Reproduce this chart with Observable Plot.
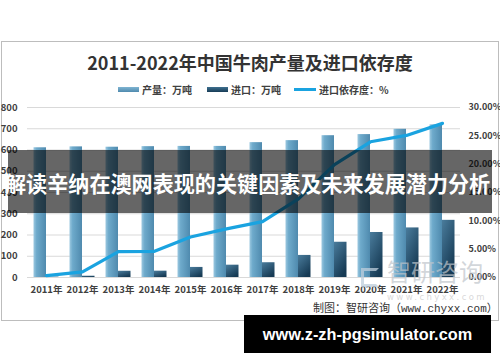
<!DOCTYPE html>
<html><head><meta charset="utf-8">
<script src="https://cdn.jsdelivr.net/npm/d3@7"></script>
<script src="https://cdn.jsdelivr.net/npm/@observablehq/plot@0.6"></script>
<style>
body{margin:0;background:#fff;}
#wrap{position:relative;width:500px;height:362px;overflow:hidden;background:#fff;font-family:"Noto Sans CJK SC","Noto Sans",sans-serif;}
#wrap svg{position:absolute;left:0;top:0;}
.abs{position:absolute;white-space:nowrap;}
</style></head>
<body>
<div id="wrap">
  <div class="abs" style="left:1px;top:41px;width:496px;height:278px;border:1px solid #bdbdbd;"></div>
  <div id="chart"></div>
  <div class="abs" style="left:361px;top:268px;width:12px;height:13px;border:3px solid rgba(190,206,220,0.75);border-right-color:transparent;"></div>
  <div class="abs" id="wm" style="left:387px;top:256px;font-size:24px;color:rgba(190,196,202,0.7);line-height:30px;"></div>
  <div class="abs" id="wmurl" style="left:387px;top:292px;font-size:8.5px;color:rgba(200,200,200,0.7);letter-spacing:2.4px;font-family:'DejaVu Sans';"></div>
  <div class="abs" id="title" style="left:0;width:500px;top:49px;text-align:center;font-size:18px;font-weight:bold;color:#333;line-height:26px;"></div>
  <div id="legend"></div>
  <div class="abs" id="caption" style="left:313px;top:301px;font-size:11px;color:#333;line-height:16px;font-family:'Liberation Mono','Noto Sans CJK SC',monospace;"></div>
  <div class="abs" style="left:8px;top:150px;width:484px;height:63px;background:rgba(0,0,0,0.6);"></div>
  <div class="abs" id="banner" style="left:5px;top:168px;font-size:21.1px;font-weight:bold;color:#fff;line-height:30px;"></div>
  <div class="abs" style="left:244px;top:315px;width:247px;height:38px;background:#000;"></div>
  <div class="abs" id="site" style="left:244px;top:315px;width:247px;height:38px;line-height:38px;text-align:center;font-family:'Liberation Sans',Arial,sans-serif;font-weight:bold;font-size:16.3px;color:#fff;"></div>
</div>
<script>
const titleText = "2011-2022年中国牛肉产量及进口依存度";
const years = ["2011","2012","2013","2014","2015","2016","2017","2018","2019","2020","2021","2022"];
const production = [610.4, 614.7, 613.1, 615.7, 616.9, 616.9, 634.6, 644.1, 667.3, 672.5, 697.5, 718.3];
const imports = [2.0, 6.1, 29.4, 29.8, 47.4, 58.0, 69.5, 103.9, 165.9, 211.8, 233.3, 269.0];
const dependency = [0.33, 0.98, 4.58, 4.62, 7.14, 8.59, 9.87, 13.89, 19.91, 23.95, 25.07, 27.2];
const leftTicks = [0,100,200,300,400,500,600,700,800];
const rightTicks = [0,5,10,15,20,25,30];
const seriesNames = ["产量：万吨","进口：万吨","进口依存度：%"];
const bannerText = "解读辛纳在澳网表现的关键因素及未来发展潜力分析";
const siteText = "www.z-zh-pgsimulator.com";
const captionText = "制图：智研咨询（www.chyxx.com）";
const watermarkText = "智研咨询";
const watermarkUrl = "www.chyxx.com";

const leftMax = 800, rightMax = 30;
const data = years.map((y,i)=>({year:y, prod:production[i], imp:imports[i], dep:dependency[i]}));

const svg = Plot.plot({
  width: 500, height: 362,
  marginLeft: 27, marginRight: 40, marginTop: 107, marginBottom: 85,
  style: {background: "transparent", fontFamily: "'Noto Sans CJK SC', sans-serif", color: "#404040"},
  x: {type: "band", domain: years, padding: 0},
  y: {domain: [0, leftMax]},
  marks: [
    Plot.ruleY(leftTicks, {stroke: "#d9d9d9", strokeWidth: 1}),
    Plot.barY(data, {x: "year", y: "prod", fill: "url(#gProd)", insetLeft: 5.5, insetRight: 18}),
    Plot.barY(data, {x: "year", y: "imp", fill: "url(#gImp)", insetLeft: 18, insetRight: 5.5}),
    Plot.lineY(data, {x: "year", y: d => d.dep * leftMax / rightMax, stroke: "#1aa3e0", strokeWidth: 3.2}),
    Plot.axisY(leftTicks, {anchor: "left", tickSize: 0, tickPadding: 10, fontSize: 9.5, fontWeight: "bold", fill: "#404040", label: null}),
    Plot.axisY(rightTicks.map(t => t * leftMax / rightMax), {anchor: "right", tickSize: 0, tickPadding: 8, fontSize: 9, fontWeight: "bold", fill: "#404040", label: null,
      tickFormat: d => (d * rightMax / leftMax).toFixed(2) + "%", textAnchor: "start"}),
    Plot.axisX({tickSize: 0, tickPadding: 9, fontSize: 9.5, fontWeight: "bold", fill: "#404040", label: null, tickFormat: d => d + "年"})
  ]
});
svg.insertAdjacentHTML("afterbegin", `<defs>
<linearGradient id="gProd" x1="0" y1="0" x2="1" y2="0">
<stop offset="0" stop-color="#9cc8e0"/><stop offset="0.25" stop-color="#6eaacb"/><stop offset="1" stop-color="#4f8aae"/>
</linearGradient>
<linearGradient id="gImp" x1="0" y1="0" x2="0.6" y2="1">
<stop offset="0" stop-color="#4a7c9c"/><stop offset="1" stop-color="#163a54"/>
</linearGradient></defs>`);
document.getElementById("chart").appendChild(svg);

document.getElementById("title").textContent = titleText;
document.getElementById("banner").textContent = bannerText;
document.getElementById("site").textContent = siteText;
document.getElementById("caption").textContent = captionText;
document.getElementById("wm").textContent = watermarkText;
document.getElementById("wmurl").textContent = watermarkUrl;

const leg = document.getElementById("legend");
const legItems = [
  {x:118, w:21, h:5, bg:"linear-gradient(#7fb4d2,#4f8aae)", name: seriesNames[0]},
  {x:207, w:21, h:5, bg:"linear-gradient(#3f7090,#173c56)", name: seriesNames[1]},
  {x:294, w:22, h:3, bg:"#1aa3e0", name: seriesNames[2]}
];
legItems.forEach(it => {
  const sw = document.createElement("div");
  sw.className = "abs";
  sw.style.cssText = `left:${it.x}px;top:${89.5 - it.h/2}px;width:${it.w}px;height:${it.h}px;background:${it.bg};`;
  leg.appendChild(sw);
  const tx = document.createElement("div");
  tx.className = "abs";
  tx.style.cssText = `left:${it.x + it.w + 3}px;top:82px;font-size:10px;font-weight:bold;color:#404040;line-height:15px;`;
  tx.textContent = it.name;
  leg.appendChild(tx);
});
</script>
</body></html>
